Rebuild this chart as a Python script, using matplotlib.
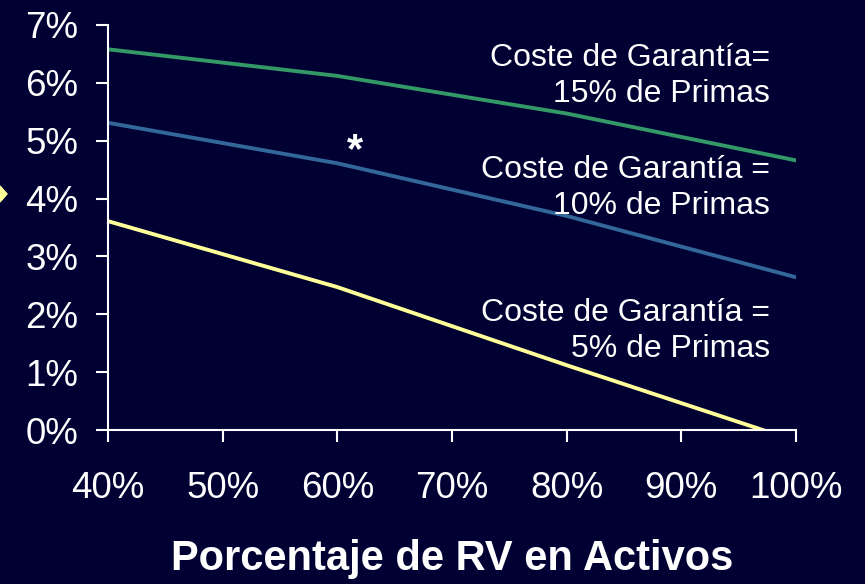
import matplotlib.pyplot as plt
from matplotlib.patches import Polygon

# datos
rv_activos = [40, 60, 80, 100]
coste_15 = [6.58, 6.12, 5.47, 4.66]
coste_10 = [5.31, 4.61, 3.70, 2.64]
coste_5 = [3.61, 2.47, 1.12, -0.19]

etiquetas = ["Coste de Garantía=\n15% de Primas",
             "Coste de Garantía =\n10% de Primas",
             "Coste de Garantía =\n5% de Primas"]

fondo = "#000033"
plt.rcParams['font.family'] = ['Liberation Sans', 'DejaVu Sans']

fig = plt.figure(figsize=(8.65, 5.84), dpi=100, facecolor=fondo)
ax = fig.add_axes([108/865, 1 - 430/584, (796 - 108)/865, (430 - 25)/584])
ax.set_facecolor(fondo)

ax.plot(rv_activos, coste_15, color="#339966", lw=2.8)
ax.plot(rv_activos, coste_10, color="#336699", lw=2.8)
ax.plot(rv_activos, coste_5, color="#FFFF99", lw=2.8)

ax.set_xlim(40, 100)
ax.set_ylim(0, 7)
ax.set_xticks(range(40, 101, 10))
ax.set_xticklabels([f"{x}%" for x in range(40, 101, 10)])
ax.set_yticks(range(0, 8))
ax.set_yticklabels([f"{y}%" for y in range(0, 8)])

for s in ["top", "right"]:
    ax.spines[s].set_visible(False)
for s in ["left", "bottom"]:
    ax.spines[s].set_color("white")
    ax.spines[s].set_linewidth(1.5)
ax.tick_params(colors="white", labelsize=26.5, length=8.5, width=1.5, direction="out")
ax.tick_params(axis="x", pad=21)
ax.tick_params(axis="y", pad=13)

ax.set_xlabel("Porcentaje de RV en Activos", color="white", fontsize=30,
              fontweight="bold", labelpad=24)

# etiquetas de las curvas
for txt, y in zip(etiquetas, [76, 188, 331]):
    fig.text(770/865, 1 - y/584, txt, color="white", fontsize=23,
             ha="right", va="center", linespacing=1.25)

fig.text(355/865, 1 - 151/584, "*", color="white", fontsize=30,
         fontweight="bold", ha="center", va="center")

# flecha cortada en el borde izquierdo
fig.patches.append(Polygon([[0, 1 - 186/584], [7/865, 1 - 194/584], [0, 1 - 202/584]],
                           closed=True, transform=fig.transFigure,
                           color="#FFFF99", figure=fig))

fig.savefig("out.png", dpi=100, facecolor=fondo)
